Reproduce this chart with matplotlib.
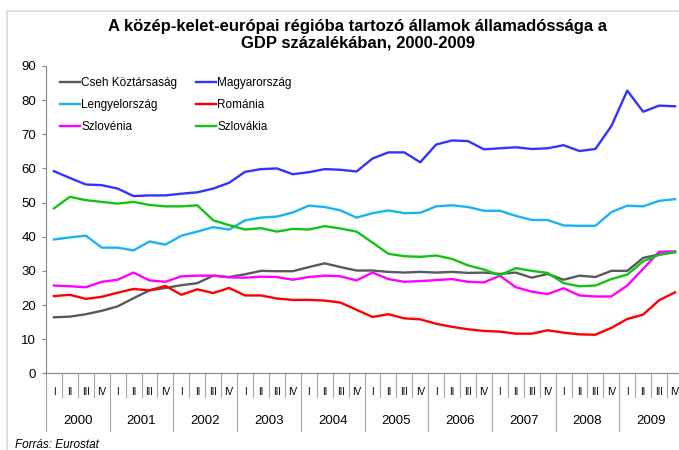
import matplotlib
matplotlib.use("Agg")
import matplotlib.pyplot as plt
from matplotlib.patches import Rectangle

plt.rcParams['font.family'] = ['Liberation Sans', 'DejaVu Sans']

years = ['2000', '2001', '2002', '2003', '2004', '2005', '2006', '2007', '2008', '2009']
quarters = ['I', 'II', 'III', 'IV']

cseh = [16.4, 16.6, 17.3, 18.3, 19.6, 22.0, 24.3, 25.0, 25.8, 26.4, 28.6, 28.2,
        29.0, 30.0, 29.9, 29.9, 31.1, 32.2, 31.1, 30.1, 30.1, 29.7, 29.5, 29.7, 29.5,
        29.7, 29.4, 29.5, 29.1, 29.5, 28.0, 29.1, 27.4, 28.6, 28.2, 30.0, 30.0, 33.8, 34.8, 35.5]
magyar = [59.2, 57.2, 55.3, 55.1, 54.1, 51.9, 52.1, 52.1, 52.6, 53.0, 54.1, 55.8,
          59.0, 59.8, 60.0, 58.3, 58.9, 59.8, 59.6, 59.1, 62.9, 64.7, 64.7, 61.8, 67.0,
          68.2, 68.0, 65.6, 65.9, 66.2, 65.7, 65.9, 66.8, 65.1, 65.7, 72.4, 82.8, 76.6, 78.4, 78.2]
lengyel = [39.2, 39.8, 40.3, 36.8, 36.8, 36.0, 38.6, 37.7, 40.3, 41.5, 42.8, 42.1,
           44.8, 45.6, 45.9, 47.1, 49.1, 48.7, 47.7, 45.6, 46.9, 47.7, 46.9, 47.0, 48.9,
           49.2, 48.7, 47.6, 47.6, 46.1, 44.9, 44.9, 43.3, 43.2, 43.2, 47.2, 49.1, 48.9, 50.5, 51.0]
romania = [22.6, 23.0, 21.8, 22.4, 23.6, 24.7, 24.3, 25.6, 23.0, 24.6, 23.5, 25.0,
           22.8, 22.8, 21.9, 21.5, 21.5, 21.3, 20.7, 18.6, 16.5, 17.3, 16.1, 15.8, 14.5,
           13.6, 12.9, 12.4, 12.2, 11.6, 11.6, 12.6, 11.9, 11.4, 11.3, 13.3, 15.9, 17.2, 21.4, 23.7]
szlovenia = [25.7, 25.5, 25.2, 26.8, 27.4, 29.5, 27.2, 26.8, 28.4, 28.6, 28.6, 28.1,
             28.0, 28.3, 28.2, 27.4, 28.2, 28.6, 28.4, 27.2, 29.5, 27.6, 26.8, 27.0, 27.3,
             27.6, 26.8, 26.6, 28.6, 25.2, 23.9, 23.2, 24.9, 22.8, 22.5, 22.5, 25.7, 30.6, 35.6, 35.7]
szlovakia = [48.3, 51.7, 50.7, 50.2, 49.7, 50.2, 49.3, 48.9, 48.9, 49.2, 44.8, 43.4,
             42.1, 42.5, 41.5, 42.3, 42.1, 43.1, 42.4, 41.5, 38.3, 35.0, 34.3, 34.1, 34.5,
             33.5, 31.6, 30.4, 28.7, 30.8, 30.0, 29.4, 26.4, 25.5, 25.7, 27.6, 28.9, 32.8, 34.7, 35.5]

series = [
    ('Cseh Köztársaság', cseh, '#595959'),
    ('Lengyelország', lengyel, '#1AB2F0'),
    ('Szlovénia', szlovenia, '#FF00FF'),
    ('Magyarország', magyar, '#3333FF'),
    ('Románia', romania, '#FF0000'),
    ('Szlovákia', szlovakia, '#11C411'),
]

W, H = 679, 450
fig = plt.figure(figsize=(W / 100, H / 100), dpi=100)
ax = fig.add_axes([46 / W, 1 - 373.3 / H, (683 - 46) / W, (373.3 - 66) / H])

x = list(range(len(cseh)))
for name, vals, col in series:
    ax.plot(x, vals, color=col, lw=1.7, label=name)

ax.set_xlim(-0.5, len(x) - 0.5)
ax.set_ylim(0, 90)
ax.set_yticks(range(0, 91, 10))
ax.tick_params(axis='y', length=3, color='#868686', labelsize=9.5, pad=4)
ax.set_xticks([])
for s in ['top', 'right']:
    ax.spines[s].set_visible(False)
ax.spines['left'].set_color('#868686')
ax.spines['bottom'].set_color('#868686')

# multi-level category axis
tr = ax.get_xaxis_transform()
h_ax = 373.3 - 66
for k in range(len(x) + 1):
    ylow = -(431 - 373.3) / h_ax if k % 4 == 0 else -(397 - 373.3) / h_ax
    ax.plot([k - 0.5, k - 0.5], [0, ylow], transform=tr, color='#A6A6A6',
            lw=0.8, clip_on=False)
for i in x:
    ax.text(i, -(392 - 373.3) / h_ax, quarters[i % 4], transform=tr,
            ha='center', va='center', fontsize=7)
for j, yr in enumerate(years):
    ax.text(j * 4 + 1.5, -(421 - 373.3) / h_ax, yr, transform=tr,
            ha='center', va='center', fontsize=9.5)

ax.legend(loc='upper left', bbox_to_anchor=(60 / W, 1 - 77 / H),
          bbox_transform=fig.transFigure, ncol=2, frameon=False, fontsize=8.5,
          handlelength=1.7, handletextpad=0.1, columnspacing=1.6,
          labelspacing=0.85, borderpad=0, borderaxespad=0)

fig.text(358 / W, 1 - 35 / H,
         'A közép-kelet-európai régióba tartozó államok államadóssága a\n'
         'GDP százalékában, 2000-2009',
         ha='center', va='center', fontsize=12, fontweight='bold',
         linespacing=1.1)
fig.text(15 / W, 1 - 445 / H, 'Forrás: Eurostat', fontsize=8.5,
         style='italic', va='center', ha='left')

fig.patches.append(Rectangle((7 / W, -0.1), 1.2, 1 - 11 / H + 0.1,
                             transform=fig.transFigure, fill=False,
                             edgecolor='#D9D9D9', lw=1.2))

fig.savefig('out.png', dpi=100)
